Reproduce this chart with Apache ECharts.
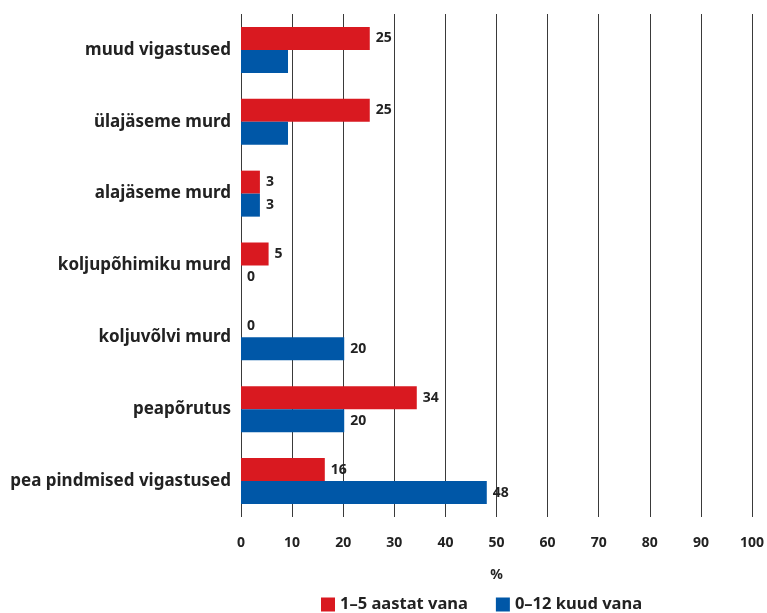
<!DOCTYPE html>
<html>
<head>
<meta charset="utf-8">
<script src="https://cdn.jsdelivr.net/npm/echarts@6/dist/echarts.min.js"></script>
<style>
  html, body { margin: 0; padding: 0; background: #fff; }
  #chart { width: 767px; height: 613px; }
</style>
</head>
<body>
<div id="chart"></div>
<script>
const categories = [
    'muud vigastused',
    'ülajäseme murd',
    'alajäseme murd',
    'koljupõhimiku murd',
    'koljuvõlvi murd',
    'peapõrutus',
    'pea pindmised vigastused',
];
// bar lengths as drawn
const olderValues = [25.2, 25.2, 3.7, 5.4, 0, 34.4, 16.4];
const infantValues = [9.2, 9.2, 3.7, 0, 20.2, 20.2, 48.1];
// figures printed beside the bars (null = no label)
const olderLabels = [25, 25, 3, 5, 0, 34, 16];
const infantLabels = [null, null, 3, 0, 20, 20, 48];
const seriesNames = ['1–5 aastat vana', '0–12 kuud vana'];

const FONT = '"Noto Sans", sans-serif';
const TEXT = '#222';

const chart = echarts.init(document.getElementById('chart'));

const makeData = (values, labels) => values.map((v, i) => ({
    value: v,
    label: labels[i] === null ? { show: false } : { formatter: String(labels[i]) },
}));

const barLabel = {
    show: true,
    position: 'right',
    distance: 6,
    color: TEXT,
    fontFamily: FONT,
    fontWeight: 'bold',
    fontSize: 14,
};

chart.setOption({
    animation: false,
    grid: { left: 241, right: 15, top: 14, bottom: 96 },
    legend: {
        top: 591,
        left: 316,
        itemWidth: 14,
        itemHeight: 14,
        itemGap: 28,
        icon: 'rect',
        textStyle: { color: TEXT, fontFamily: FONT, fontWeight: 'bold', fontSize: 16.5 },
        data: seriesNames,
    },
    xAxis: {
        type: 'value',
        min: 0,
        max: 100,
        interval: 10,
        name: '%',
        nameLocation: 'middle',
        nameGap: 51,
        nameTextStyle: { color: TEXT, fontFamily: FONT, fontWeight: 'bold', fontSize: 14 },
        axisLine: { show: false },
        axisTick: { show: false },
        axisLabel: { color: TEXT, fontFamily: FONT, fontWeight: 'bold', fontSize: 14, margin: 19 },
        splitLine: { show: true, lineStyle: { color: '#3a3a3a', width: 1 } },
    },
    yAxis: {
        type: 'category',
        inverse: true,
        data: categories,
        axisLine: { show: false },
        axisTick: { show: false },
        axisLabel: { color: TEXT, fontFamily: FONT, fontWeight: 'bold', fontSize: 17, margin: 10 },
    },
    series: [
        {
            name: seriesNames[0],
            type: 'bar',
            barWidth: 23,
            barGap: '0%',
            itemStyle: { color: '#d91920' },
            label: barLabel,
            data: makeData(olderValues, olderLabels),
        },
        {
            name: seriesNames[1],
            type: 'bar',
            barWidth: 23,
            barGap: '0%',
            itemStyle: { color: '#0057a7' },
            label: barLabel,
            data: makeData(infantValues, infantLabels),
        },
    ],
});
</script>
</body>
</html>
